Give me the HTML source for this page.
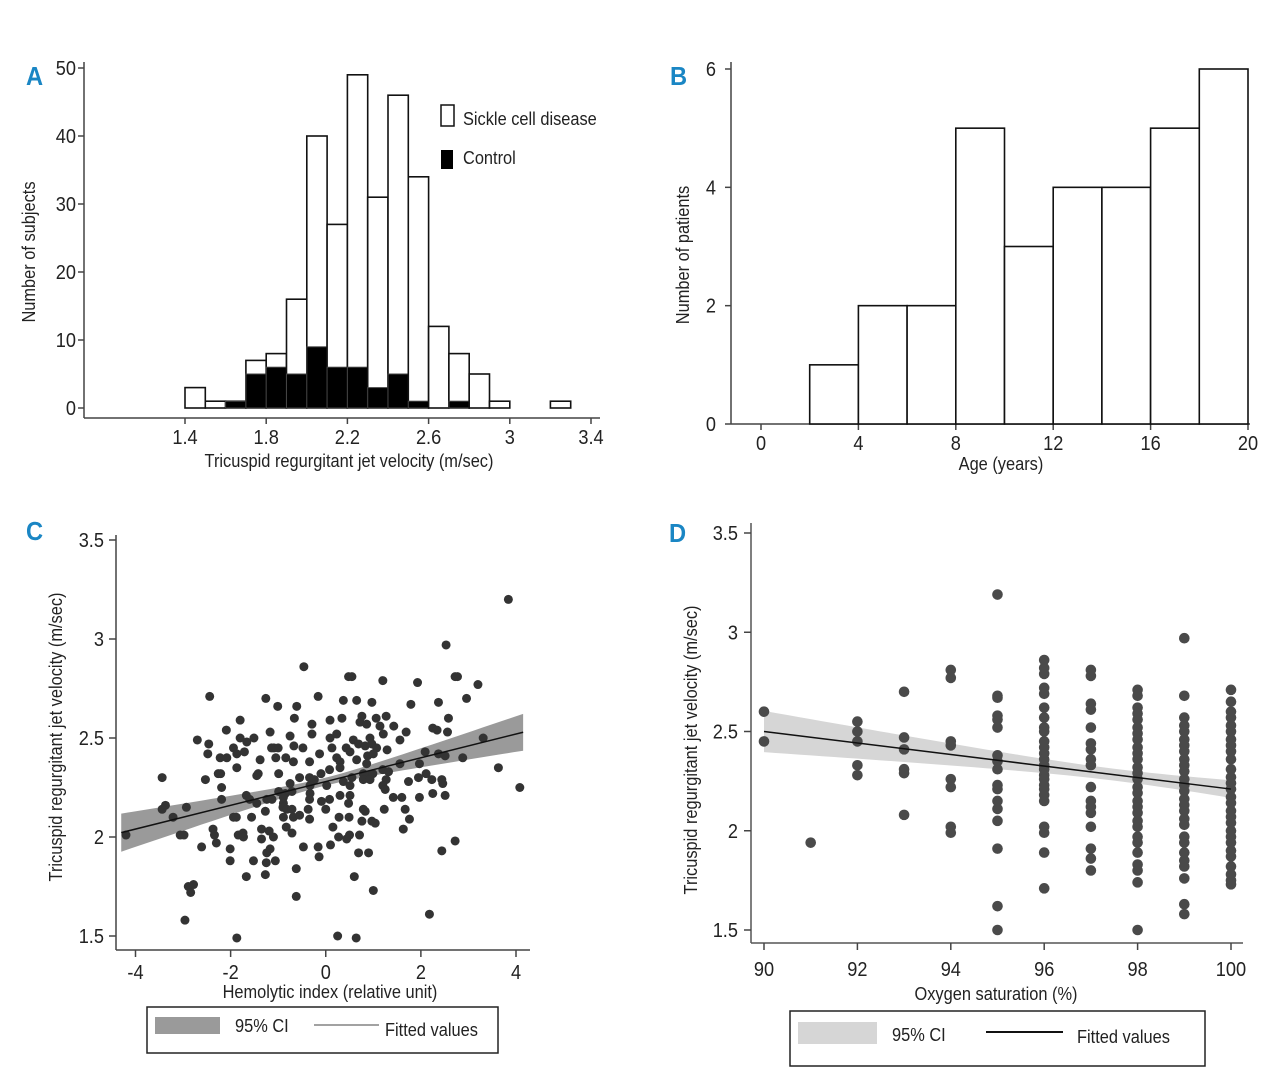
<!DOCTYPE html>
<html><head><meta charset="utf-8">
<style>
body{margin:0;background:#fff;}
svg{display:block;font-family:"Liberation Sans Narrow","Liberation Sans",sans-serif;}
.t{font-size:20px;fill:#222;}
.lab{font-size:18px;fill:#222;}
.pl{font-size:26px;font-weight:bold;fill:#1a86c4;}
</style></head>
<body>
<svg id="fig" width="1280" height="1089" viewBox="0 0 1280 1089" xmlns="http://www.w3.org/2000/svg">
<g id="pA"></g>
<g id="pB"></g>
<g id="pC"></g>
<g id="pD"></g>
</svg>
<script>
// ---- Panel A data ----
const aBinStarts=[1.4,1.5,1.6,1.7,1.8,1.9,2.0,2.1,2.2,2.3,2.4,2.5,2.6,2.7,2.8,2.9,3.2];
const aSickle=[3,1,1,7,8,16,40,27,49,31,46,34,12,8,5,1,1];
const aControl=[0,0,1,5,6,5,9,6,6,3,5,1,0,1,0,0,0];
const aXTicks=[1.4,1.8,2.2,2.6,3,3.4];
const aYTicks=[0,10,20,30,40,50];
// ---- Panel B data ----
const bBinStarts=[2,4,6,8,10,12,14,16,18];
const bCounts=[1,2,2,5,3,4,4,5,6];
const bXTicks=[0,4,8,12,16,20];
const bYTicks=[0,2,4,6];
// ---- Panel C data ----
const cX=[3.84,2.53,-0.46,0.55,0.48,1.20,1.93,2.72,2.77,3.20,-2.44,-1.26,-0.16,2.96,-1.01,-0.61,0.37,0.65,0.97,1.79,2.37,-1.80,-0.66,0.09,0.34,0.76,1.06,1.27,2.58,-0.29,0.72,0.86,1.14,1.43,-2.09,-1.17,-0.29,2.25,2.34,2.56,1.21,1.69,-2.70,-1.80,-1.51,-0.75,0.09,0.23,0.58,0.93,1.56,3.31,-2.46,-1.66,-1.09,-1.14,-1.00,-0.67,-0.48,0.13,0.43,0.69,0.83,0.97,1.07,1.29,-1.94,-2.48,-2.22,-2.08,-1.87,-1.71,-1.05,-0.84,-0.68,-0.13,0.23,0.30,0.51,0.65,0.88,1.00,2.09,2.37,2.51,2.88,-1.38,-0.34,0.86,1.97,3.63,-1.87,0.08,0.30,1.20,1.32,1.56,2.11,-2.21,-2.26,-1.42,-1.45,-0.99,-0.10,0.79,0.88,0.99,-3.44,-2.53,-0.55,-0.34,-0.24,0.37,0.55,0.79,0.93,1.27,1.74,1.95,2.23,2.44,2.46,-0.75,-0.33,0.02,0.51,1.20,1.25,-2.19,-2.19,4.08,-0.99,-0.85,-0.71,-0.33,0.30,0.51,-1.67,-1.60,1.42,1.60,1.97,2.25,2.51,-1.45,-1.24,-1.13,-0.89,-0.89,-0.90,-0.82,-0.34,0.08,0.48,-3.37,-3.44,-2.93,-1.27,-0.71,-0.37,0.00,-0.09,0.79,1.23,1.67,-3.21,-1.94,-1.88,-1.56,-0.89,-0.68,-0.55,-0.34,0.28,0.49,0.76,0.83,0.97,1.04,1.76,-2.37,-2.34,-2.30,-1.35,-1.19,-1.10,-0.83,-0.71,0.15,1.63,-4.20,-3.06,-2.98,-1.84,-1.74,-1.73,-1.35,0.27,0.50,0.44,0.71,-2.61,-2.01,-1.17,-1.24,-0.47,-0.16,0.10,2.72,2.44,-2.01,-1.52,-1.06,-0.14,0.69,0.90,-1.25,-0.62,-1.67,-1.27,0.60,-2.89,-2.78,-2.84,1.00,-0.62,2.18,-2.96,-1.87,0.25,0.64];
const cY=[3.20,2.97,2.86,2.81,2.81,2.79,2.78,2.81,2.81,2.77,2.71,2.70,2.71,2.70,2.66,2.66,2.69,2.69,2.68,2.67,2.68,2.59,2.60,2.59,2.60,2.61,2.60,2.61,2.60,2.57,2.58,2.57,2.56,2.56,2.54,2.53,2.52,2.55,2.54,2.53,2.52,2.53,2.49,2.50,2.50,2.51,2.50,2.52,2.49,2.50,2.49,2.50,2.47,2.48,2.45,2.45,2.45,2.46,2.45,2.45,2.45,2.47,2.46,2.47,2.45,2.44,2.45,2.42,2.40,2.40,2.42,2.43,2.40,2.40,2.38,2.42,2.40,2.38,2.43,2.39,2.41,2.42,2.43,2.42,2.41,2.40,2.39,2.38,2.37,2.37,2.35,2.35,2.34,2.35,2.34,2.33,2.37,2.32,2.32,2.32,2.32,2.31,2.32,2.32,2.32,2.31,2.32,2.30,2.29,2.30,2.30,2.29,2.28,2.30,2.29,2.29,2.29,2.28,2.30,2.29,2.29,2.27,2.27,2.26,2.26,2.26,2.26,2.24,2.25,2.19,2.25,2.23,2.22,2.23,2.22,2.21,2.21,2.21,2.19,2.20,2.20,2.20,2.22,2.21,2.17,2.19,2.19,2.20,2.17,2.15,2.14,2.19,2.19,2.17,2.16,2.14,2.15,2.13,2.14,2.14,2.14,2.18,2.14,2.14,2.14,2.10,2.10,2.10,2.10,2.10,2.10,2.11,2.09,2.10,2.10,2.08,2.13,2.08,2.07,2.09,2.04,2.01,1.97,2.04,2.03,2.00,2.05,2.02,2.05,2.04,2.01,2.01,2.01,2.01,2.02,2.00,1.99,2.00,2.01,1.99,2.01,1.95,1.94,1.94,1.92,1.95,1.95,1.96,1.98,1.93,1.88,1.88,1.88,1.90,1.92,1.92,1.87,1.84,1.80,1.81,1.80,1.75,1.76,1.72,1.73,1.70,1.61,1.58,1.49,1.50,1.49];
const cXTicks=[-4,-2,0,2,4];
const cYTicks=[1.5,2,2.5,3,3.5];
const cFit=[2.28,0.06]; // intercept, slope
// ---- Panel D data ----
const dX=[90,90,91,92,92,92,92,92,93,93,93,93,93,93,94,94,94,94,94,94,94,94,
95,95,95,95,95,95,95,95,95,95,95,95,95,95,95,95,95,
96,96,96,96,96,96,96,96,96,96,96,96,96,96,96,96,96,96,96,96,96,96,96,96,96,
97,97,97,97,97,97,97,97,97,97,97,97,97,97,97,97,97,
98,98,98,98,98,98,98,98,98,98,98,98,98,98,98,98,98,98,98,98,98,98,98,98,98,98,98,98,
99,99,99,99,99,99,99,99,99,99,99,99,99,99,99,99,99,99,99,99,99,99,99,99,99,99,99,
100,100,100,100,100,100,100,100,100,100,100,100,100,100,100,100,100,100,100,100,100,100,100,100,100,100,100,100];
const dY=[2.60,2.45,1.94,2.55,2.50,2.45,2.33,2.28,2.70,2.47,2.41,2.31,2.29,2.08,2.81,2.77,2.45,2.43,2.26,2.22,2.02,1.99,
3.19,2.68,2.67,2.58,2.56,2.52,2.38,2.35,2.31,2.23,2.21,2.15,2.11,2.05,1.91,1.62,1.50,
2.86,2.82,2.79,2.72,2.69,2.62,2.57,2.52,2.50,2.45,2.42,2.39,2.36,2.33,2.31,2.28,2.26,2.23,2.21,2.18,2.15,2.02,1.99,1.89,1.71,
2.81,2.78,2.64,2.61,2.52,2.44,2.41,2.36,2.33,2.22,2.15,2.12,2.09,2.02,1.91,1.86,1.80,
2.71,2.68,2.62,2.59,2.56,2.52,2.49,2.46,2.42,2.39,2.36,2.32,2.29,2.26,2.22,2.19,2.15,2.12,2.09,2.05,2.02,1.97,1.94,1.89,1.83,1.80,1.74,1.50,
2.97,2.68,2.57,2.53,2.50,2.46,2.43,2.40,2.36,2.33,2.30,2.26,2.23,2.20,2.16,2.13,2.10,2.06,2.03,1.97,1.94,1.89,1.85,1.82,1.76,1.63,1.58,
2.71,2.65,2.60,2.57,2.53,2.50,2.46,2.43,2.40,2.36,2.31,2.27,2.24,2.21,2.17,2.14,2.10,2.07,2.04,2.00,1.97,1.94,1.90,1.87,1.82,1.78,1.75,1.73];
const dXTicks=[90,92,94,96,98,100];
const dYTicks=[1.5,2,2.5,3,3.5];
const dFit=[2.50,-0.029]; // value at 90, slope per %

const NS='http://www.w3.org/2000/svg';
function mk(parent,tag,attrs,text){const e=document.createElementNS(NS,tag);for(const k in attrs)e.setAttribute(k,attrs[k]);if(text!==undefined)e.textContent=text;parent.appendChild(e);return e;}
function lin(d0,d1,p0,p1){return v=>p0+(v-d0)*(p1-p0)/(d1-d0);}

// ===== Panel A =====
(function(){
const g=document.getElementById('pA');
const x=lin(1.4,3.4,185,591), y=lin(0,50,408,68);
let e=mk(g,'text',{x:26,y:85,class:'pl'},'A');


e=mk(g,'line',{x1:84,y1:62,x2:84,y2:418,stroke:'#444','stroke-width':1.5});


e=mk(g,'line',{x1:84,y1:418,x2:600,y2:418,stroke:'#444','stroke-width':1.5});


aYTicks.forEach(v=>{mk(g,'line',{x1:78,x2:84,y1:y(v),y2:y(v),stroke:'#444','stroke-width':1.5});
 e=mk(g,'text',{x:76,y:y(v)+7,class:'t','text-anchor':'end'},v);
 
 });
aXTicks.forEach(v=>{mk(g,'line',{x1:x(v),x2:x(v),y1:418,y2:424,stroke:'#444','stroke-width':1.5});
 e=mk(g,'text',{x:x(v),y:444,class:'t','text-anchor':'middle'},v);
 
 });
aBinStarts.forEach((b,i)=>{
 e=mk(g,'rect',{x:x(b),y:y(aSickle[i]),width:x(b+0.1)-x(b),height:y(0)-y(aSickle[i]),fill:'#fff',stroke:'#111','stroke-width':1.6});
 
 
 if(aControl[i]>0){e=mk(g,'rect',{x:x(b),y:y(aControl[i]),width:x(b+0.1)-x(b),height:y(0)-y(aControl[i]),fill:'#000',stroke:'#444','stroke-width':1});
 
 }
});
e=mk(g,'text',{x:0,y:0,class:'lab','text-anchor':'middle',transform:'translate(35,252) rotate(-90)'},'Number of subjects');


e=mk(g,'text',{x:349,y:467,class:'lab','text-anchor':'middle'},'Tricuspid regurgitant jet velocity (m/sec)');


e=mk(g,'rect',{x:441,y:105,width:13,height:21,fill:'#fff',stroke:'#111','stroke-width':1.5});


e=mk(g,'text',{x:463,y:125,class:'lab'},'Sickle cell disease');


e=mk(g,'rect',{x:441,y:150,width:12,height:19,fill:'#000'});


e=mk(g,'text',{x:463,y:164,class:'lab'},'Control');


})();

// ===== Panel B =====
(function(){
const g=document.getElementById('pB');
const x=lin(0,20,761,1248), y=lin(0,6,424,69);
let e=mk(g,'text',{x:670,y:85,class:'pl'},'B');


e=mk(g,'line',{x1:731,y1:62,x2:731,y2:424,stroke:'#444','stroke-width':1.5});


e=mk(g,'line',{x1:731,y1:424,x2:1250,y2:424,stroke:'#444','stroke-width':1.5});


bYTicks.forEach(v=>{mk(g,'line',{x1:725,x2:731,y1:y(v),y2:y(v),stroke:'#444','stroke-width':1.5});
 e=mk(g,'text',{x:716,y:y(v)+7,class:'t','text-anchor':'end'},v);
 
 });
bXTicks.forEach(v=>{mk(g,'line',{x1:x(v),x2:x(v),y1:424,y2:430,stroke:'#444','stroke-width':1.5});
 e=mk(g,'text',{x:x(v),y:450,class:'t','text-anchor':'middle'},v);
 
 });
bBinStarts.forEach((b,i)=>{
 e=mk(g,'rect',{x:x(b),y:y(bCounts[i]),width:x(b+2)-x(b),height:y(0)-y(bCounts[i]),fill:'#fff',stroke:'#111','stroke-width':1.6});
 
 
});
e=mk(g,'text',{x:0,y:0,class:'lab','text-anchor':'middle',transform:'translate(689,255) rotate(-90)'},'Number of patients');


e=mk(g,'text',{x:1001,y:470,class:'lab','text-anchor':'middle'},'Age (years)');


})();

// ===== Panel C =====
(function(){
const g=document.getElementById('pC');
const x=lin(-4,4,135.5,516), y=lin(1.5,3.5,936,540);
let e=mk(g,'text',{x:26,y:540,class:'pl'},'C');


const x0=-4.3,x1=4.15,N=40,up=[],lo=[];
for(let i=0;i<=N;i++){const xv=x0+(x1-x0)*i/N,f=cFit[0]+cFit[1]*xv,h=Math.sqrt(0.0004+0.00048*xv*xv);up.push(x(xv)+','+y(f+h));lo.unshift(x(xv)+','+y(f-h));}
e=mk(g,'polygon',{points:up.concat(lo).join(' '),fill:'#9a9a9a'});


cX.forEach((xv,i)=>{e=mk(g,'circle',{cx:x(xv),cy:y(cY[i]),r:4.5,fill:'#333'});
 
 });
e=mk(g,'line',{x1:x(x0),y1:y(cFit[0]+cFit[1]*x0),x2:x(x1),y2:y(cFit[0]+cFit[1]*x1),stroke:'#111','stroke-width':1.5});


e=mk(g,'line',{x1:116,y1:535,x2:116,y2:950,stroke:'#444','stroke-width':1.5});


e=mk(g,'line',{x1:116,y1:950,x2:530,y2:950,stroke:'#444','stroke-width':1.5});


cYTicks.forEach(v=>{mk(g,'line',{x1:109,x2:116,y1:y(v),y2:y(v),stroke:'#444','stroke-width':1.5});
 e=mk(g,'text',{x:104,y:y(v)+7,class:'t','text-anchor':'end'},v);
 
 });
cXTicks.forEach(v=>{mk(g,'line',{x1:x(v),x2:x(v),y1:950,y2:957,stroke:'#444','stroke-width':1.5});
 e=mk(g,'text',{x:x(v),y:979,class:'t','text-anchor':'middle'},v);
 
 });
e=mk(g,'text',{x:0,y:0,class:'lab','text-anchor':'middle',transform:'translate(62,737) rotate(-90)'},'Tricuspid regurgitant jet velocity (m/sec)');


e=mk(g,'text',{x:330,y:998,class:'lab','text-anchor':'middle'},'Hemolytic index (relative unit)');


const lg=mk(g,'g',{});


mk(lg,'rect',{x:147,y:1007,width:351,height:46,fill:'#fff',stroke:'#222','stroke-width':1.5});
mk(lg,'rect',{x:155,y:1017,width:65,height:17,fill:'#9a9a9a'});
e=mk(lg,'text',{x:235,y:1032,class:'lab'},'95% CI');


mk(lg,'line',{x1:314,x2:379,y1:1025,y2:1025,stroke:'#444','stroke-width':1});
e=mk(lg,'text',{x:385,y:1036,class:'lab'},'Fitted values');


})();

// ===== Panel D =====
(function(){
const g=document.getElementById('pD');
const x=lin(90,100,764,1231), y=lin(1.5,3.5,930,533);
let e=mk(g,'text',{x:669,y:542,class:'pl'},'D');


const up=[],lo=[],N=40;
for(let i=0;i<=N;i++){const xv=90+10*i/N,f=dFit[0]+dFit[1]*(xv-90),h=Math.sqrt(0.0009+0.000176*(xv-97.5)*(xv-97.5));up.push(x(xv)+','+y(f+h));lo.unshift(x(xv)+','+y(f-h));}
e=mk(g,'polygon',{points:up.concat(lo).join(' '),fill:'#d6d6d6'});


dX.forEach((xv,i)=>{e=mk(g,'circle',{cx:x(xv),cy:y(dY[i]),r:5.3,fill:'#4a4a4a'});
 
 });
e=mk(g,'line',{x1:x(90),y1:y(dFit[0]),x2:x(100),y2:y(dFit[0]+dFit[1]*10),stroke:'#111','stroke-width':1.5});


e=mk(g,'line',{x1:751,y1:523,x2:751,y2:943,stroke:'#555','stroke-width':1.5});


e=mk(g,'line',{x1:751,y1:943,x2:1243,y2:943,stroke:'#555','stroke-width':1.5});


dYTicks.forEach(v=>{mk(g,'line',{x1:744,x2:751,y1:y(v),y2:y(v),stroke:'#444','stroke-width':1.5});
 e=mk(g,'text',{x:738,y:y(v)+7,class:'t','text-anchor':'end'},v);
 
 });
dXTicks.forEach(v=>{mk(g,'line',{x1:x(v),x2:x(v),y1:943,y2:950,stroke:'#444','stroke-width':1.5});
 e=mk(g,'text',{x:x(v),y:976,class:'t','text-anchor':'middle'},v);
 
 });
e=mk(g,'text',{x:0,y:0,class:'lab','text-anchor':'middle',transform:'translate(697,750) rotate(-90)'},'Tricuspid regurgitant jet velocity (m/sec)');


e=mk(g,'text',{x:996,y:1000,class:'lab','text-anchor':'middle'},'Oxygen saturation (%)');


const lg=mk(g,'g',{});


mk(lg,'rect',{x:790,y:1011,width:415,height:55,fill:'#fff',stroke:'#222','stroke-width':1.5});
mk(lg,'rect',{x:798,y:1022,width:79,height:22,fill:'#d6d6d6'});
e=mk(lg,'text',{x:892,y:1041,class:'lab'},'95% CI');


mk(lg,'line',{x1:986,x2:1063,y1:1032,y2:1032,stroke:'#111','stroke-width':2});
e=mk(lg,'text',{x:1077,y:1043,class:'lab'},'Fitted values');


})();

// condense all text to mimic the narrow typeface of the reference
document.querySelectorAll('#fig text').forEach(t=>{
 const w=t.getComputedTextLength();
 if(w>0){t.setAttribute('textLength',(w*0.91).toFixed(1));t.setAttribute('lengthAdjust','spacingAndGlyphs');}
});
</script>
</body></html>
